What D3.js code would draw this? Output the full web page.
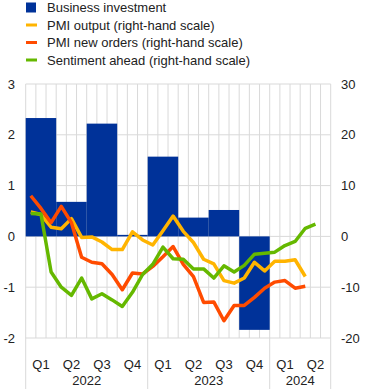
<!DOCTYPE html>
<html>
<head>
<meta charset="utf-8">
<script src="https://d3js.org/d3.v7.min.js"></script>
<style>
  body { margin: 0; background: #fff; }
  text { font-family: Arial, "Liberation Sans", sans-serif; fill: #222; }
</style>
</head>
<body>
<div id="chart"></div>
<script>
// quarterly business investment (left-hand scale), Q1 2022 .. Q2 2024
var quarters = ["Q1", "Q2", "Q3", "Q4", "Q1", "Q2", "Q3", "Q4", "Q1", "Q2"];
var investment = [2.33, 0.68, 2.22, 0.03, 1.57, 0.37, 0.52, -1.84, null, null];

// years and how many quarters each covers
var years = ["2022", "2023", "2024"];
var yearQuarters = [4, 4, 2];

// monthly survey series (right-hand scale), from Jan 2022
var pmiOutput = [4.8, 4.3, 1.8, 1.5, 3.5, -0.2, -0.1, -1.1, -2.6, -2.6, 0.9, -0.7,
                 -1.7, 1.1, 4.0, 1.0, -1.2, -4.5, -5.4, -8.7, -9.2, -8.2, -5.1, -6.8,
                 -4.9, -4.9, -4.6, -7.9];
var pmiNewOrders = [8.0, 5.5, 2.7, 5.9, 2.7, -4.1, -5.1, -5.4, -7.5, -10.5, -7.2, -7.4,
                    -5.9, -4.0, -2.0, -5.5, -7.9, -13.0, -12.9, -16.6, -13.6, -13.6, -12.0, -10.2,
                    -9.0, -8.7, -10.2, -9.8];
var sentiment = [4.5, 4.4, -7.0, -10.0, -11.6, -8.2, -12.3, -11.3, -12.5, -13.8, -11.0, -7.5,
                 -5.5, -2.1, -4.4, -4.5, -6.4, -6.4, -8.2, -5.8, -7.0, -5.7, -3.5, -3.3,
                 -3.1, -1.8, -1.0, 1.6, 2.4];

var leftTicks = [-2, -1, 0, 1, 2, 3];
var rightTicks = [-20, -10, 0, 10, 20, 30];

var seriesNames = ["Business investment", "PMI output (right-hand scale)",
                   "PMI new orders (right-hand scale)", "Sentiment ahead (right-hand scale)"];
var seriesColors = ["#003299", "#ffb400", "#ff4b00", "#65b800"];

var width = 373, height = 391;
var plotLeft = 25.7, plotRight = 330.7, plotTop = 84, plotBottom = 338;

var svg = d3.select("#chart").append("svg")
    .attr("width", width)
    .attr("height", height);

// month scale: 30 months on the x axis
var x = d3.scaleLinear().domain([0, 30]).range([plotLeft, plotRight]);
var y = d3.scaleLinear().domain([-2, 3]).range([plotBottom, plotTop]);
var y2 = d3.scaleLinear().domain([-20, 30]).range([plotBottom, plotTop]);

// grid
svg.append("g")
    .selectAll("line")
    .data(d3.range(0, 31))
    .enter().append("line")
    .attr("x1", d => x(d)).attr("x2", d => x(d))
    .attr("y1", plotTop).attr("y2", plotBottom)
    .attr("stroke", "#d9d9d9").attr("stroke-width", 1);

svg.append("g")
    .selectAll("line")
    .data(leftTicks)
    .enter().append("line")
    .attr("x1", plotLeft).attr("x2", plotRight)
    .attr("y1", d => y(d)).attr("y2", d => y(d))
    .attr("stroke", "#d9d9d9").attr("stroke-width", 1);

// bars
svg.append("g")
    .selectAll("rect")
    .data(investment)
    .enter().filter(d => d !== null)
    .append("rect")
    .attr("x", (d, i) => x(investment.indexOf(d) * 3))
    .attr("width", x(3) - x(0))
    .attr("y", d => y(Math.max(0, d)))
    .attr("height", d => Math.abs(y(d) - y(0)))
    .attr("fill", seriesColors[0]);

// lines
var line = d3.line()
    .x((d, i) => x(i + 0.5))
    .y(d => y2(d));

[pmiOutput, pmiNewOrders, sentiment].forEach(function (s, k) {
    svg.append("path")
        .datum(s)
        .attr("d", line)
        .attr("fill", "none")
        .attr("stroke", seriesColors[k + 1])
        .attr("stroke-width", 3.5)
        .attr("stroke-linejoin", "round");
});

// axis labels
svg.append("g")
    .selectAll("text")
    .data(leftTicks)
    .enter().append("text")
    .attr("x", 15)
    .attr("y", d => y(d))
    .attr("dy", "0.35em")
    .attr("text-anchor", "end")
    .style("font-size", "13px")
    .text(d => d);

svg.append("g")
    .selectAll("text")
    .data(rightTicks)
    .enter().append("text")
    .attr("x", 341)
    .attr("y", d => y2(d))
    .attr("dy", "0.35em")
    .style("font-size", "13px")
    .text(d => d);

svg.append("g")
    .selectAll("text")
    .data(quarters)
    .enter().append("text")
    .attr("x", (d, i) => x(i * 3 + 1.5))
    .attr("y", 369)
    .attr("text-anchor", "middle")
    .style("font-size", "13px")
    .text(d => d);

var yearStart = [0];
yearQuarters.forEach(function (q, i) { yearStart.push(yearStart[i] + q * 3); });

svg.append("g")
    .selectAll("text")
    .data(years)
    .enter().append("text")
    .attr("x", (d, i) => x((yearStart[i] + yearStart[i + 1]) / 2))
    .attr("y", 385)
    .attr("text-anchor", "middle")
    .style("font-size", "13px")
    .text(d => d);

svg.append("g")
    .selectAll("line")
    .data(yearStart)
    .enter().append("line")
    .attr("x1", d => x(d)).attr("x2", d => x(d))
    .attr("y1", plotBottom).attr("y2", 389)
    .attr("stroke", "#d9d9d9").attr("stroke-width", 1);

// legend
var legend = svg.append("g");
seriesNames.forEach(function (name, i) {
    var cy = 7.5 + i * 17.5;
    if (i === 0) {
        legend.append("rect")
            .attr("x", 26).attr("y", cy - 5)
            .attr("width", 10).attr("height", 10)
            .attr("fill", seriesColors[i]);
    } else {
        legend.append("line")
            .attr("x1", 26).attr("x2", 37)
            .attr("y1", cy).attr("y2", cy)
            .attr("stroke", seriesColors[i])
            .attr("stroke-width", 3);
    }
    legend.append("text")
        .attr("x", 47)
        .attr("y", cy)
        .attr("dy", "0.35em")
        .style("font-size", "13px")
        .text(name);
});
</script>
</body>
</html>
